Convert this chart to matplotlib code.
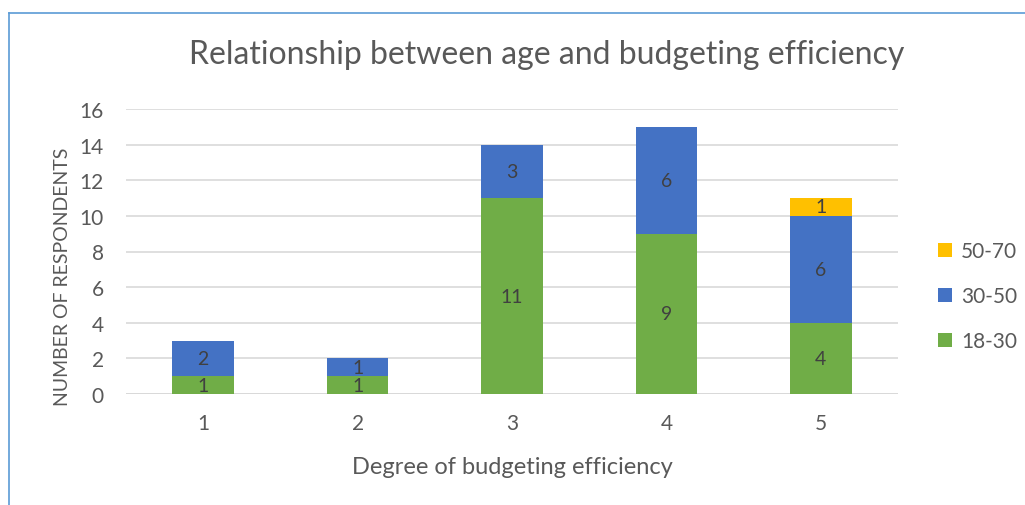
import matplotlib
matplotlib.use("Agg")
import matplotlib.pyplot as plt
from matplotlib.lines import Line2D
import numpy as np

plt.rcParams['font.family'] = ['Lato', 'DejaVu Sans']

categories = ['1', '2', '3', '4', '5']
age_18_30 = [1, 1, 11, 9, 4]
age_30_50 = [2, 1, 3, 6, 6]
age_50_70 = [0, 0, 0, 0, 1]
series = [('18-30', age_18_30, '#70AD47'),
          ('30-50', age_30_50, '#4472C4'),
          ('50-70', age_50_70, '#FFC000')]

grey = '#595959'
fig = plt.figure(figsize=(10.25, 5.06), dpi=100)
ax = fig.add_axes([126/1025, 1 - 395/506, 772/1025, 285/506])

x = np.arange(len(categories))
bottom = np.zeros(len(categories))
handles = []
for name, vals, col in series:
    vals = np.array(vals, dtype=float)
    bars = ax.bar(x, vals, 0.4, bottom=bottom, color=col, label=name, zorder=3)
    for xi, v, b in zip(x, vals, bottom):
        if v > 0:
            ax.text(xi, b + v / 2, str(int(v)), ha='center', va='center',
                    fontsize=14, color='#404040', zorder=4)
    bottom += vals
    handles.append(bars)

ax.set_xlim(-0.5, 4.5)
ax.set_ylim(0, 16)
ax.set_yticks(range(0, 17, 2))
ax.set_xticks(x)
ax.set_xticklabels(categories)
ax.yaxis.grid(True, color='#D9D9D9', lw=1.2, zorder=0)
ax.axhline(0, color='#D9D9D9', lw=2, zorder=2)
for s in ax.spines.values():
    s.set_visible(False)
ax.tick_params(length=0, labelsize=15, colors=grey)
ax.tick_params(axis='y', pad=16)
ax.tick_params(axis='x', pad=14)

ax.set_xlabel('Degree of budgeting efficiency', fontsize=17, color=grey, labelpad=16)
fig.text(62/1025, 1 - 277/506, 'NUMBER OF RESPONDENTS', rotation=90,
         ha='center', va='center', fontsize=14, color=grey)
fig.text(547/1025, 1 - 55/506, 'Relationship between age and budgeting efficiency',
         ha='center', va='center', fontsize=23, color=grey)

leg = fig.legend(handles=handles[::-1], labels=[s[0] for s in series][::-1],
                 loc='center left', bbox_to_anchor=(938/1025, 1 - 297/506),
                 borderaxespad=0, borderpad=0,
                 frameon=False, fontsize=15, handlelength=0.65, handleheight=0.65,
                 labelspacing=1.2, handletextpad=0.45, labelcolor=grey)

# frame lines at top and left
fig.add_artist(Line2D([9/1025, 1], [1 - 14/506, 1 - 14/506], color='#5B9BD5', lw=1.2))
fig.add_artist(Line2D([9/1025, 9/1025], [0, 1 - 14/506], color='#5B9BD5', lw=1.2))

fig.savefig('out.png', dpi=100)
